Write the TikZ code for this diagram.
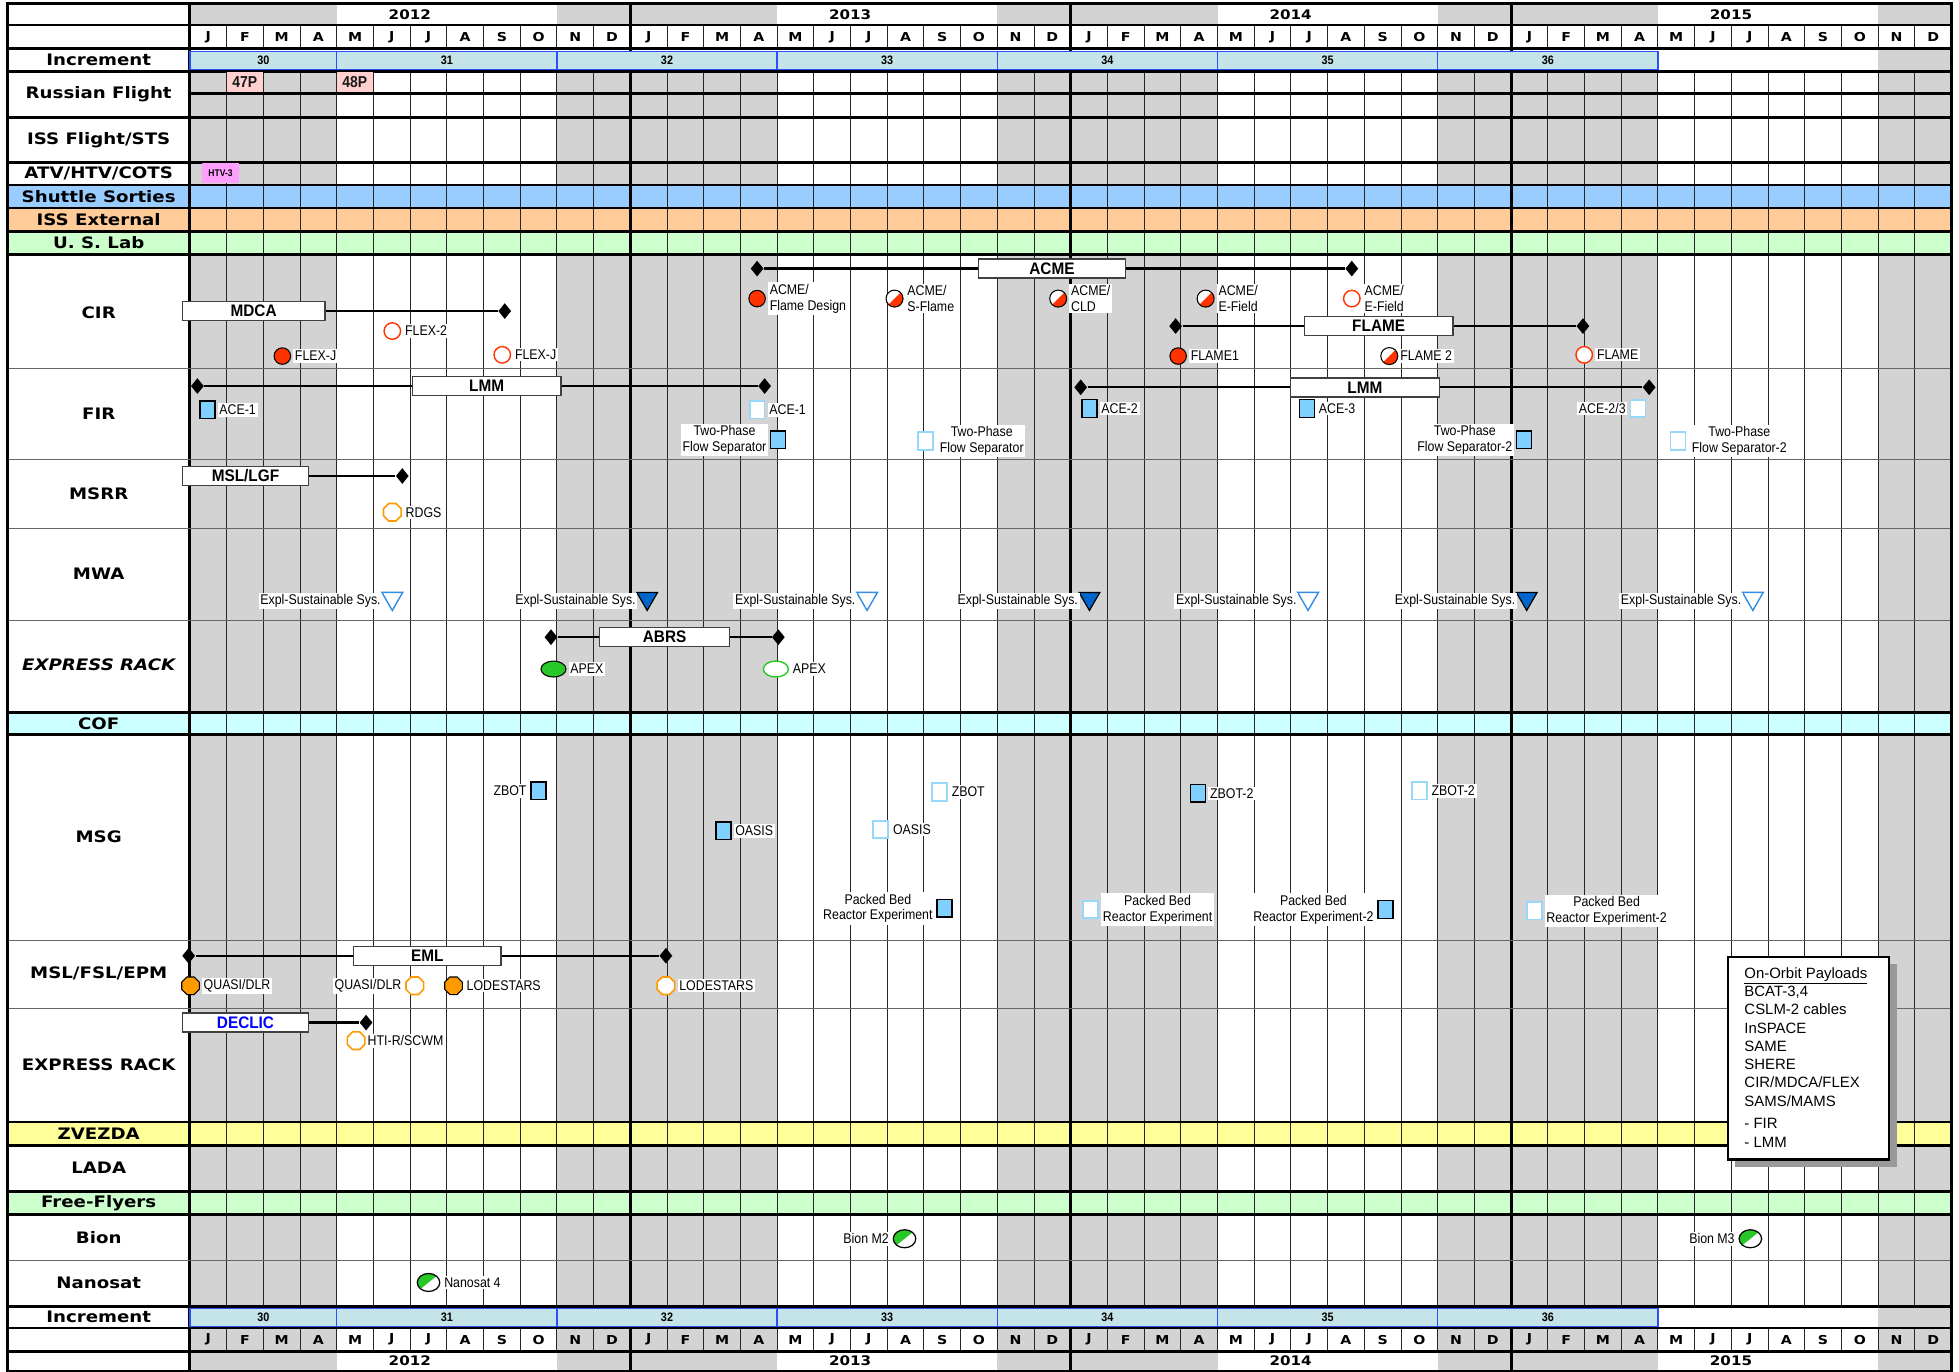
\documentclass[tikz,border=0pt]{standalone}
\usepackage{fontspec}
\setmainfont{Liberation Sans}
\newfontfamily\hdrfont[FakeStretch=1.15]{DejaVu Sans}
\newfontfamily\narrowfont[FakeStretch=0.88]{Liberation Sans}
\newfontfamily\barfont[FakeStretch=0.92]{Liberation Sans}
\usetikzlibrary{positioning, shapes.geometric, shadows}
\definecolor{GrCol}{RGB}{211,211,211}
\definecolor{ShutB}{RGB}{153,204,255}
\definecolor{ExtO}{RGB}{255,204,153}
\definecolor{LabG}{RGB}{204,255,204}
\definecolor{CofC}{RGB}{204,255,255}
\definecolor{ZvY}{RGB}{255,255,153}
\definecolor{IncF}{RGB}{196,228,232}
\definecolor{IncB}{RGB}{40,80,255}
\definecolor{RedM}{RGB}{255,51,0}
\definecolor{SqF}{RGB}{128,208,255}
\definecolor{SqO}{RGB}{150,215,250}
\definecolor{TriO}{RGB}{51,140,230}
\definecolor{TriF}{RGB}{0,102,204}
\definecolor{OrM}{RGB}{255,153,0}
\definecolor{GrnM}{RGB}{40,200,40}
\definecolor{PinkP}{RGB}{255,208,208}
\definecolor{HtvP}{RGB}{255,160,255}
\definecolor{DeclB}{RGB}{0,0,255}

\begin{document}
\begin{tikzpicture}[x=0.025cm, y=-0.025cm,
  rowlbl/.style={font=\hdrfont\bfseries\fontsize{9}{11}\selectfont, inner sep=0pt},
  monlbl/.style={font=\hdrfont\bfseries\fontsize{7}{8}\selectfont, inner sep=0pt},
  yrlbl/.style={font=\hdrfont\bfseries\fontsize{7.5}{9}\selectfont, inner sep=0pt},
  incnum/.style={font=\narrowfont\bfseries\fontsize{7}{8}\selectfont, inner sep=0pt},
  incbar/.style={draw=IncB, fill=IncF, line width=0.7pt},
  mline/.style={black!85, line width=0.55pt},
  yline/.style={black, line width=1.6pt},
  hthick/.style={black, line width=1.6pt},
  hthin/.style={black!60, line width=0.6pt},
  flt/.style={font=\narrowfont\bfseries\fontsize{9}{10}\selectfont, inner sep=0pt, text=black!90},
  barbox/.style={draw=black!75, fill=white, line width=0.8pt, minimum height=0.38cm,
                 inner sep=0pt, font=\barfont\bfseries\fontsize{9.5}{11}\selectfont},
  mstone/.style={shape=diamond, fill=black, minimum width=0.26cm, minimum height=0.32cm, inner sep=0pt},
  barline/.style={black, line width=1.3pt},
  lbl/.style={fill=white, inner sep=1pt, font=\narrowfont\fontsize{8}{9}\selectfont, align=center},
  fred/.style={circle, draw=black, fill=RedM, minimum size=0.33cm, inner sep=0pt, line width=0.6pt},
  ored/.style={circle, draw=RedM, fill=white, minimum size=0.33cm, inner sep=0pt, line width=0.8pt},
  hred/.style={circle, draw=black, fill=white, minimum size=0.34cm, inner sep=0pt, line width=0.6pt,
    path picture={\fill[RedM] (path picture bounding box.south west) -- (path picture bounding box.north east)
                  -- (path picture bounding box.south east) -- cycle;}},
  fsq/.style={rectangle, draw=black, fill=SqF, minimum width=0.3cm, minimum height=0.35cm, inner sep=0pt, line width=0.7pt},
  osq/.style={rectangle, draw=SqO, fill=white, minimum width=0.3cm, minimum height=0.35cm, inner sep=0pt, line width=1pt},
  forg/.style={shape=regular polygon, regular polygon sides=8, draw=black, fill=OrM, minimum size=0.38cm, inner sep=0pt, line width=0.6pt},
  oorg/.style={shape=regular polygon, regular polygon sides=8, draw=OrM, fill=white, minimum size=0.38cm, inner sep=0pt, line width=0.9pt},
  otri/.style={shape=regular polygon, regular polygon sides=3, shape border rotate=180, draw=TriO, fill=white,
               minimum size=0.48cm, inner sep=0pt, line width=0.8pt},
  ftri/.style={shape=regular polygon, regular polygon sides=3, shape border rotate=180, draw=black, fill=TriF,
               minimum size=0.48cm, inner sep=0pt, line width=0.7pt},
  fgrn/.style={ellipse, draw=black, fill=GrnM, minimum width=0.5cm, minimum height=0.32cm, inner sep=0pt, line width=0.6pt},
  ogrn/.style={ellipse, draw=GrnM, fill=white, minimum width=0.5cm, minimum height=0.32cm, inner sep=0pt, line width=0.8pt},
  hgrn/.style={ellipse, draw=black, fill=white, minimum width=0.45cm, minimum height=0.36cm, inner sep=0pt, line width=0.7pt,
    path picture={\fill[GrnM] (path picture bounding box.south west) -- (path picture bounding box.north east)
                  -- (path picture bounding box.north west) -- cycle;}}
]
\useasboundingbox (0,0) rectangle (1568,1098);
\fill[white] (6,3) rectangle (1562,1097.5);

% Nov-Apr months shaded
\foreach \i in {0,...,47}{
  \pgfmathtruncatemacro{\mo}{mod(\i,12)}
  \pgfmathsetmacro{\xl}{152+\i*29.375}
  \ifnum\mo<4 \fill[GrCol] (\xl,3) rectangle ++(29.375,1094.5);\fi
  \ifnum\mo>9 \fill[GrCol] (\xl,3) rectangle ++(29.375,1094.5);\fi
}
\fill[white] (152,20) rectangle (1562,39);
\fill[white] (152,39) rectangle (1503.5,57);
\fill[white] (152,1045.5) rectangle (1503.5,1063);

% coloured bands
\foreach \ya/\yb/\col in {148/166.5/ShutB,166.5/185/ExtO,185/203.5/LabG,570/588/CofC,898/917/ZvY,953.5/972/LabG}
  \fill[\col] (6,\ya) rectangle (1562,\yb);

% month and year lines
\foreach \i in {1,...,47}{
  \pgfmathsetmacro{\xm}{152+\i*29.375}
  \draw[mline] (\xm,20) -- (\xm,39) (\xm,57) -- (\xm,1045.5) (\xm,1063) -- (\xm,1081.5);
}
\foreach \x in {152,504.5,857,1209.5}
  \draw[yline] (\x,3) -- (\x,1097.5);

% increments
\foreach \n/\a/\b in {30/0/4,31/4/10,32/10/16,33/16/22,34/22/28,35/28/34,36/34/40}{
  \pgfmathsetmacro{\xa}{152+\a*29.375}
  \pgfmathsetmacro{\xb}{152+\b*29.375}
  \pgfmathsetmacro{\xc}{(\xa+\xb)/2}
  \draw[incbar] (\xa,41) rectangle (\xb,56);
  \node[incnum] (inct\n) at (\xc,48.5) {\n};
  \draw[incbar] (\xa,1047) rectangle (\xb,1061.5);
  \node[incnum] (incb\n) at (\xc,1054.25) {\n};
}

% row separators
\foreach \y in {20,39,57,94,130,148,166.5,185,203.5,570,588,898,917,953.5,972,1045.5,1063,1081.5}
  \draw[hthick] (6,\y) -- (1562,\y);
\draw[hthick] (152,75) -- (1562,75);
\foreach \y in {295,368,423,496.5,753,807,1009}
  \draw[hthin] (6,\y) -- (1562,\y);
\draw[line width=1.6pt] (6,3) rectangle (1562,1097.5);

% years and months
\foreach \k/\yr in {0/2012,1/2013,2/2014,3/2015}{
  \node[yrlbl] (yt\yr) at ({328+\k*352.5},11.5) {\yr};
  \node[yrlbl] (yb\yr) at ({328+\k*352.5},1089.5) {\yr};
  \foreach \j/\ml in {0/J,1/F,2/M,3/A,4/M,5/J,6/J,7/A,8/S,9/O,10/N,11/D}{
    \pgfmathsetmacro{\xm}{152+(\k*12+\j+0.5)*29.375}
    \node[monlbl] (mt\k-\j) at (\xm,29.5) {\ml};
    \node[monlbl] (mb\k-\j) at (\xm,1072.25) {\ml};
  }
}

% row labels
\node[rowlbl] (rinc) at (79,48) {Increment};
\node[rowlbl] (rrus) at (79,75.5) {Russian Flight};
\node[rowlbl] (riss) at (79,112) {ISS Flight/STS};
\node[rowlbl] (ratv) at (79,139) {ATV/HTV/COTS};
\node[rowlbl] (rsht) at (79,157.3) {Shuttle Sorties};
\node[rowlbl] (rext) at (79,175.8) {ISS External};
\node[rowlbl] (rlab) at (79,194.3) {U. S. Lab};
\node[rowlbl] (rcir) at (79,250) {CIR};
\node[rowlbl] (rfir) at (79,331) {FIR};
\node[rowlbl] (rmsrr) at (79,395) {MSRR};
\node[rowlbl] (rmwa) at (79,459) {MWA};
\node[rowlbl, font=\hdrfont\bfseries\itshape\fontsize{9}{11}\selectfont] (rexpa) at (79,532) {EXPRESS RACK};
\node[rowlbl] (rcof) at (79,579) {COF};
\node[rowlbl] (rmsg) at (79,670) {MSG};
\node[rowlbl] (rmsl) at (79,779) {MSL/FSL/EPM};
\node[rowlbl] (rexpb) at (79,852) {EXPRESS RACK};
\node[rowlbl] (rzvz) at (79,907.5) {ZVEZDA};
\node[rowlbl] (rlada) at (79,935) {LADA};
\node[rowlbl] (rfree) at (79,962.8) {Free-Flyers};
\node[rowlbl] (rbion) at (79,990.5) {Bion};
\node[rowlbl] (rnano) at (79,1027) {Nanosat};
\node[rowlbl] (rincb) at (79,1054.3) {Increment};

% flights
\node[flt, fill=PinkP, minimum width=0.73cm, minimum height=0.4cm] (p47) at (196,66) {47P};
\node[flt, fill=PinkP, minimum width=0.73cm, minimum height=0.4cm] (p48) at (284,66) {48P};
\node[fill=HtvP, minimum width=0.725cm, minimum height=0.4cm, inner sep=0pt,
      font=\narrowfont\bfseries\fontsize{5.5}{6}\selectfont] (htv3) at (176.5,138.7) {HTV-3};

% CIR
\node[mstone] (acmeL) at (606,215) {};
\node[mstone] (acmeR) at (1082,215) {};
\draw[barline] (acmeL) -- (acmeR);
\node[barbox, minimum width=2.95cm] (acme) at (842,215) {ACME};
\node[barbox, minimum width=2.85cm] (mdca) at (203,249) {MDCA};
\node[mstone] (mdcaR) at (404,249) {};
\draw[barline] (mdca) -- (mdcaR);
\node[mstone] (flameL) at (941,261) {};
\node[mstone] (flameR) at (1267,261) {};
\draw[barline] (flameL) -- (flameR);
\node[barbox, minimum width=2.975cm] (flame) at (1103.5,261) {FLAME};
\node[fred] (cir1) at (606,239) {};
\node[lbl, align=left, right=1pt of cir1] (cir1l) {ACME/\\Flame Design};
\node[hred] (cir2) at (716,239) {};
\node[lbl, align=left, right=1pt of cir2] (cir2l) {ACME/\\S-Flame};
\node[hred] (cir3) at (847,239) {};
\node[lbl, align=left, right=1pt of cir3] (cir3l) {ACME/\\CLD};
\node[hred] (cir4) at (965,239) {};
\node[lbl, align=left, right=1pt of cir4] (cir4l) {ACME/\\E-Field};
\node[ored] (cir5) at (1082,239) {};
\node[lbl, align=left, right=1pt of cir5] (cir5l) {ACME/\\E-Field};
\node[ored] (cir6) at (314,265) {};
\node[lbl, right=1pt of cir6] (cir6l) {FLEX-2};
\node[fred] (cir7) at (226,285) {};
\node[lbl, right=1pt of cir7] (cir7l) {FLEX-J};
\node[ored] (cir8) at (402,284) {};
\node[lbl, right=1pt of cir8] (cir8l) {FLEX-J};
\node[fred] (cir9) at (943,285) {};
\node[lbl, right=1pt of cir9] (cir9l) {FLAME1};
\node[hred] (cir10) at (1112,285) {};
\node[lbl, right=0pt of cir10] (cir10l) {FLAME 2};
\node[ored] (cir11) at (1268,284) {};
\node[lbl, right=1pt of cir11] (cir11l) {FLAME};

% FIR
\node[mstone] (lmmaL) at (158,309) {};
\node[mstone] (lmmaR) at (612,309) {};
\draw[barline] (lmmaL) -- (lmmaR);
\node[barbox, minimum width=2.975cm] (lmma) at (389.5,309) {LMM};
\node[mstone] (lmmbL) at (865,310) {};
\node[mstone] (lmmbR) at (1320,310) {};
\draw[barline] (lmmbL) -- (lmmbR);
\node[barbox, minimum width=2.975cm] (lmmb) at (1092.5,310) {LMM};
\node[fsq] (fir1) at (166,328) {};
\node[lbl, right=1pt of fir1] (fir1l) {ACE-1};
\node[osq] (fir2) at (606,328) {};
\node[lbl, right=1pt of fir2] (fir2l) {ACE-1};
\node[fsq] (fir3) at (623,352) {};
\node[lbl, left=1pt of fir3] (fir3l) {Two-Phase\\Flow Separator};
\node[osq] (fir4) at (741,353) {};
\node[lbl, right=2pt of fir4] (fir4l) {Two-Phase\\Flow Separator};
\node[fsq] (fir5) at (872,327) {};
\node[lbl, right=1pt of fir5] (fir5l) {ACE-2};
\node[fsq] (fir6) at (1046,327) {};
\node[lbl, right=1pt of fir6] (fir6l) {ACE-3};
\node[osq] (fir7) at (1311,327) {};
\node[lbl, left=1pt of fir7] (fir7l) {ACE-2/3};
\node[fsq] (fir8) at (1220,352) {};
\node[lbl, left=1pt of fir8] (fir8l) {Two-Phase\\Flow Separator-2};
\node[osq] (fir9) at (1343,353) {};
\node[lbl, right=2pt of fir9] (fir9l) {Two-Phase\\Flow Separator-2};

% MSRR
\node[barbox, minimum width=2.525cm] (msl) at (196.5,381) {MSL/LGF};
\node[mstone] (mslR) at (322,381) {};
\draw[barline] (msl) -- (mslR);
\node[oorg] (rdgs) at (314,410) {};
\node[lbl, right=1pt of rdgs] (rdgsl) {RDGS};

% MWA
\foreach \x/\s [count=\k] in {314/otri,518/ftri,694/otri,872/ftri,1047/otri,1222/ftri,1403/otri}{
  \node[\s] (mwa\k) at (\x,479) {};
  \node[lbl, left=1pt of mwa\k, yshift=-1.5pt] (mwal\k) {Expl-Sustainable Sys.};
}

% EXPRESS RACK (upper)
\node[mstone] (abrsL) at (441,510) {};
\node[mstone] (abrsR) at (623,510) {};
\draw[barline] (abrsL) -- (abrsR);
\node[barbox, minimum width=2.6cm] (abrs) at (532,510) {ABRS};
\node[fgrn] (apx1) at (443,535.5) {};
\node[lbl, right=1pt of apx1] (apx1l) {APEX};
\node[ogrn] (apx2) at (621,535.5) {};
\node[lbl, right=1pt of apx2] (apx2l) {APEX};

% MSG
\node[fsq] (msg1) at (431,633) {};
\node[lbl, left=1pt of msg1] (msg1l) {ZBOT};
\node[osq] (msg2) at (752,634) {};
\node[lbl, right=1pt of msg2] (msg2l) {ZBOT};
\node[fsq] (msg3) at (959,635) {};
\node[lbl, right=1pt of msg3] (msg3l) {ZBOT-2};
\node[osq] (msg4) at (1136,633) {};
\node[lbl, right=1pt of msg4] (msg4l) {ZBOT-2};
\node[fsq] (msg5) at (579,665) {};
\node[lbl, right=1pt of msg5] (msg5l) {OASIS};
\node[osq] (msg6) at (705,664) {};
\node[lbl, right=1pt of msg6] (msg6l) {OASIS};
\node[fsq] (msg7) at (756,727) {};
\node[lbl, left=1pt of msg7] (msg7l) {Packed Bed\\Reactor Experiment};
\node[osq] (msg8) at (873,728) {};
\node[lbl, right=1pt of msg8] (msg8l) {Packed Bed\\Reactor Experiment};
\node[fsq] (msg9) at (1109,728) {};
\node[lbl, left=1pt of msg9] (msg9l) {Packed Bed\\Reactor Experiment-2};
\node[osq] (msg10) at (1228,729) {};
\node[lbl, right=1pt of msg10] (msg10l) {Packed Bed\\Reactor Experiment-2};

% MSL/FSL/EPM
\node[mstone] (emlL) at (151,765) {};
\node[mstone] (emlR) at (533,765) {};
\draw[barline] (emlL) -- (emlR);
\node[barbox, minimum width=2.95cm] (eml) at (342,765) {EML};
\node[forg] (epm1) at (152.5,789) {};
\node[lbl, right=1pt of epm1] (epm1l) {QUASI/DLR};
\node[oorg] (epm2) at (332,789) {};
\node[lbl, left=1pt of epm2] (epm2l) {QUASI/DLR};
\node[forg] (epm3) at (363,789) {};
\node[lbl, right=1pt of epm3] (epm3l) {LODESTARS};
\node[oorg] (epm4) at (533,789) {};
\node[lbl, right=1pt of epm4] (epm4l) {LODESTARS};

% EXPRESS RACK (lower)
\node[barbox, minimum width=2.525cm, text=DeclB] (declic) at (196.5,818.5) {DECLIC};
\node[mstone] (declicR) at (293,818.5) {};
\draw[barline] (declic) -- (declicR);
\node[oorg] (hti) at (285,833) {};
\node[lbl, right=0pt of hti] (htil) {HTI-R/SCWM};

% legend
\node[draw=black, line width=1.4pt, fill=white, minimum width=3.225cm, minimum height=4.05cm,
      drop shadow={shadow xshift=0.15cm, shadow yshift=-0.15cm, fill=black!40, opacity=1}] (legend) at (1447.5,847) {};
\node[anchor=north west, align=left, inner sep=0pt, font=\fontsize{8.5}{10.4}\selectfont] (legtxt) at (1396,774)
  {\underline{On-Orbit Payloads}\\BCAT-3,4\\CSLM-2 cables\\InSPACE\\SAME\\SHERE\\CIR/MDCA/FLEX\\SAMS/MAMS\\[2.5pt]- FIR\\- LMM};

% free-flyers
\node[hgrn] (bion1) at (724,991.5) {};
\node[lbl, left=1pt of bion1] (bion1l) {Bion M2};
\node[hgrn] (bion2) at (1401,991.5) {};
\node[lbl, left=1pt of bion2] (bion2l) {Bion M3};
\node[hgrn] (nano1) at (343,1026.5) {};
\node[lbl, right=1pt of nano1] (nano1l) {Nanosat 4};
\end{tikzpicture}
\end{document}
